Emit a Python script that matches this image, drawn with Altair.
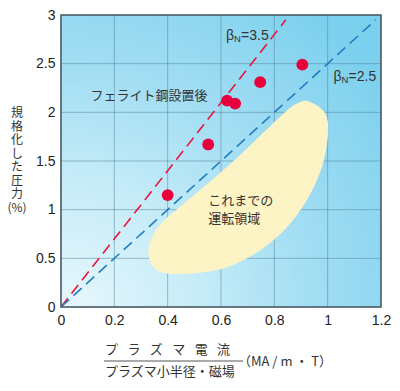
import altair as alt
import pandas as pd

# ---------------- data ----------------
x_ticks = [0, 0.2, 0.4, 0.6, 0.8, 1.0, 1.2]
y_ticks = [0, 0.5, 1.0, 1.5, 2.0, 2.5, 3.0]

# measured points after ferritic steel installation
pt_x = [0.400, 0.552, 0.623, 0.653, 0.747, 0.905]
pt_y = [1.15, 1.67, 2.12, 2.09, 2.31, 2.49]

# beta_N limit lines (start / end points)
beta_name = ["3.5", "3.5", "2.5", "2.5"]
beta_x = [0.0, 0.843, 0.0, 1.18]
beta_y = [0.0, 2.95, 0.0, 2.95]

# previous operating region outline
blob_x = [0.928, 0.984, 1.000, 0.990, 0.965, 0.916, 0.842, 0.743, 0.620, 0.496,
          0.397, 0.348, 0.330, 0.342, 0.385, 0.471, 0.570, 0.669, 0.768, 0.854, 0.897]
blob_y = [2.11, 2.01, 1.85, 1.58, 1.35, 1.08, 0.81, 0.58, 0.41, 0.35,
          0.35, 0.41, 0.55, 0.71, 0.88, 1.08, 1.31, 1.55, 1.81, 2.03, 2.10]

# annotation texts
ferrite_text = ["フェライト鋼設置後"]
ferrite_x = [0.33]
ferrite_y = [2.17]

beta_lab_val = ["=3.5", "=2.5"]
beta_lab_x = [0.619, 1.022]
beta_lab_y = [2.78, 2.36]

region_text = ["これまでの", "運転領域"]
region_x = [0.552, 0.552]
region_y = [1.09, 0.90]

y_title = ["規", "格", "化", "し", "た", "圧", "力", "(%)"]
x_num = "\u2002 ".join(["プ", "ラ", "ズ", "マ", "電", "流"])
x_den = "プラズマ小半径・磁場"
x_unit = "（MA / m ・ T）"

# ---------------- chart ----------------
W, H = 320, 292
JP = "Noto Sans CJK JP"
NUM = "Liberation Sans"
TXT = "#333333"

xs = alt.Scale(domain=[0, 1.2], nice=False, zero=False)
ys = alt.Scale(domain=[0, 3], nice=False, zero=False)
xax = alt.Axis(values=x_ticks, format="~g", grid=False, ticks=False, tickSize=0,
               domain=False, labelFont=NUM, labelFontSize=14, labelColor="#222222",
               labelPadding=6, labelFlush=False, labelOverlap=False, title=None)
yax = alt.Axis(values=y_ticks, format="~g", grid=False, ticks=False, tickSize=0,
               domain=False, labelFont=NUM, labelFontSize=14, labelColor="#222222",
               labelPadding=6, labelOverlap=False, title=None)

one = pd.DataFrame({"v": [0]})

bg = alt.Chart(one).mark_rect(
    fill=alt.RadialGradient(
        gradient="radial",
        x1=0, y1=1, r1=0, x2=0, y2=1, r2=1.25,
        stops=[
            alt.GradientStop(color="#eaf8fd", offset=0),
            alt.GradientStop(color="#c6ecf8", offset=0.35),
            alt.GradientStop(color="#a6dff4", offset=0.6),
            alt.GradientStop(color="#8dd6f0", offset=0.85),
            alt.GradientStop(color="#7bd0ee", offset=1),
        ],
    )
).encode(x=alt.value(0), x2=alt.value(W), y=alt.value(0), y2=alt.value(H))

grid_v = alt.Chart(pd.DataFrame({"x": x_ticks})).mark_rule(
    color="#4f7f96", strokeWidth=1, opacity=0.5
).encode(x=alt.X("x:Q", scale=xs, axis=xax))

grid_h = alt.Chart(pd.DataFrame({"y": y_ticks})).mark_rule(
    color="#4f7f96", strokeWidth=1, opacity=0.5
).encode(y=alt.Y("y:Q", scale=ys, axis=yax))

blob_df = pd.DataFrame({"x": blob_x, "y": blob_y, "o": list(range(len(blob_x)))})
blob = alt.Chart(blob_df).mark_line(
    fill="#fdf4c6", stroke="#fdf4c6", strokeWidth=1, interpolate="cardinal-closed"
).encode(
    x=alt.X("x:Q", scale=xs, axis=xax),
    y=alt.Y("y:Q", scale=ys, axis=yax),
    order="o:Q",
)

beta_df = pd.DataFrame({"x": beta_x, "y": beta_y, "name": beta_name})
beta = alt.Chart(beta_df).mark_line(strokeDash=[11, 6], strokeWidth=1.6).encode(
    x=alt.X("x:Q", scale=xs, axis=xax),
    y=alt.Y("y:Q", scale=ys, axis=yax),
    color=alt.Color("name:N", scale=alt.Scale(domain=["3.5", "2.5"],
                                              range=["#e8163f", "#1f7fc0"]), legend=None),
)

pts = alt.Chart(pd.DataFrame({"x": pt_x, "y": pt_y})).mark_circle(
    size=140, color="#e8003d", opacity=1
).encode(x=alt.X("x:Q", scale=xs, axis=xax), y=alt.Y("y:Q", scale=ys, axis=yax))

ferrite = alt.Chart(pd.DataFrame({"x": ferrite_x, "y": ferrite_y, "t": ferrite_text})).mark_text(
    font=JP, fontSize=13, color=TXT
).encode(x=alt.X("x:Q", scale=xs, axis=xax), y=alt.Y("y:Q", scale=ys, axis=yax), text="t:N")

region = alt.Chart(pd.DataFrame({"x": region_x, "y": region_y, "t": region_text})).mark_text(
    font=JP, fontSize=13, color=TXT, align="left"
).encode(x=alt.X("x:Q", scale=xs, axis=xax), y=alt.Y("y:Q", scale=ys, axis=yax), text="t:N")

blab_df = pd.DataFrame({"x": beta_lab_x, "y": beta_lab_y, "t": beta_lab_val})
blab_base = alt.Chart(blab_df).encode(
    x=alt.X("x:Q", scale=xs, axis=xax), y=alt.Y("y:Q", scale=ys, axis=yax)
)
blab_beta = blab_base.mark_text(font=NUM, fontSize=14, color=TXT, align="left", text="β")
blab_n = blab_base.mark_text(font=NUM, fontSize=9.5, color=TXT, align="left", dx=8, dy=3, text="N")
blab_val = blab_base.mark_text(font=NUM, fontSize=14, color=TXT, align="left", dx=15).encode(text="t:N")

border = alt.Chart(one).mark_rect(
    fillOpacity=0, stroke="#4a5a62", strokeWidth=1.5
).encode(x=alt.value(0), x2=alt.value(W), y=alt.value(0), y2=alt.value(H))

ytitle = alt.Chart(one).mark_text(
    text=y_title, font=JP, fontSize=12, lineHeight=13.5, baseline="top",
    align="center", color=TXT
).encode(x=alt.value(-44), y=alt.value(93))

num = alt.Chart(one).mark_text(
    text=x_num, font=JP, fontSize=13, align="left", baseline="middle", color=TXT
).encode(x=alt.value(44), y=alt.value(335))

frac = alt.Chart(one).mark_rule(color="#555555", strokeWidth=1).encode(
    x=alt.value(43), x2=alt.value(182), y=alt.value(346)
)

den = alt.Chart(one).mark_text(
    text=x_den, font=JP, fontSize=13, align="left", baseline="middle", color=TXT
).encode(x=alt.value(44), y=alt.value(357))

unit = alt.Chart(one).mark_text(
    text=x_unit, font=JP, fontSize=13, align="left", baseline="middle", color=TXT
).encode(x=alt.value(177), y=alt.value(347))

chart = alt.layer(
    bg, grid_v, grid_h, blob, beta, pts, ferrite, region,
    blab_beta, blab_n, blab_val, border, ytitle, num, frac, den, unit
).properties(
    width=W, height=H,
    autosize=alt.AutoSizeParams(type="none"),
    padding={"left": 53, "top": 7, "right": 11, "bottom": 76},
).configure_view(strokeWidth=0)

chart.save("out.html", embed_options={"renderer": "svg", "actions": False})
